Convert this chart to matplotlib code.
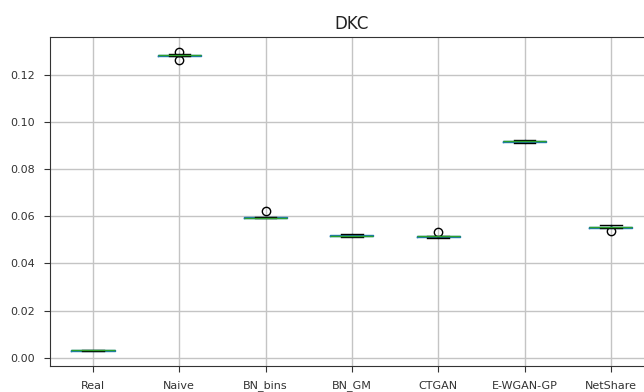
import matplotlib
matplotlib.use("Agg")
import matplotlib.pyplot as plt
import pandas as pd

categories = ["Real", "Naive", "BN_bins", "BN_GM", "CTGAN", "E-WGAN-GP", "NetShare"]

real = [0.0028, 0.0029, 0.0030, 0.0030, 0.0031, 0.0031, 0.0031, 0.0032, 0.0032, 0.0033]
naive = [0.1262, 0.1279, 0.1281, 0.1283, 0.1284, 0.1284, 0.1285, 0.1286, 0.1288, 0.1298]
bn_bins = [0.0591, 0.0592, 0.0593, 0.0594, 0.0595, 0.0595, 0.0596, 0.0597, 0.0598, 0.0621]
bn_gm = [0.0511, 0.0513, 0.0515, 0.0516, 0.0517, 0.0518, 0.0519, 0.0520, 0.0522, 0.0524]
ctgan = [0.0508, 0.0510, 0.0512, 0.0514, 0.0515, 0.0516, 0.0517, 0.0517, 0.0518, 0.0535]
ewgan = [0.0912, 0.0914, 0.0916, 0.0917, 0.0918, 0.0920, 0.0921, 0.0922, 0.0924, 0.0926]
netshare = [0.0539, 0.0550, 0.0552, 0.0553, 0.0554, 0.0555, 0.0556, 0.0557, 0.0559, 0.0562]

df = pd.DataFrame(dict(zip(categories, [real, naive, bn_bins, bn_gm, ctgan, ewgan, netshare])))

fig = plt.figure(figsize=(6.44, 3.92), dpi=100)
ax = fig.add_axes([0.0774, 0.0663, 0.9381, 0.8393])
df.boxplot(ax=ax, grid=True, fontsize=8)
ax.grid(True, color="#c4c4c4", linewidth=1.0)
ax.tick_params(axis="both", length=4.5, colors="#333333", labelcolor="#333333")
ax.tick_params(axis="y", pad=6)
ax.tick_params(axis="x", pad=6)
for s in ax.spines.values():
    s.set_color("#333333")
ax.set_title("DKC", fontsize=12, color="#222222")

fig.savefig("out.png", dpi=100)
